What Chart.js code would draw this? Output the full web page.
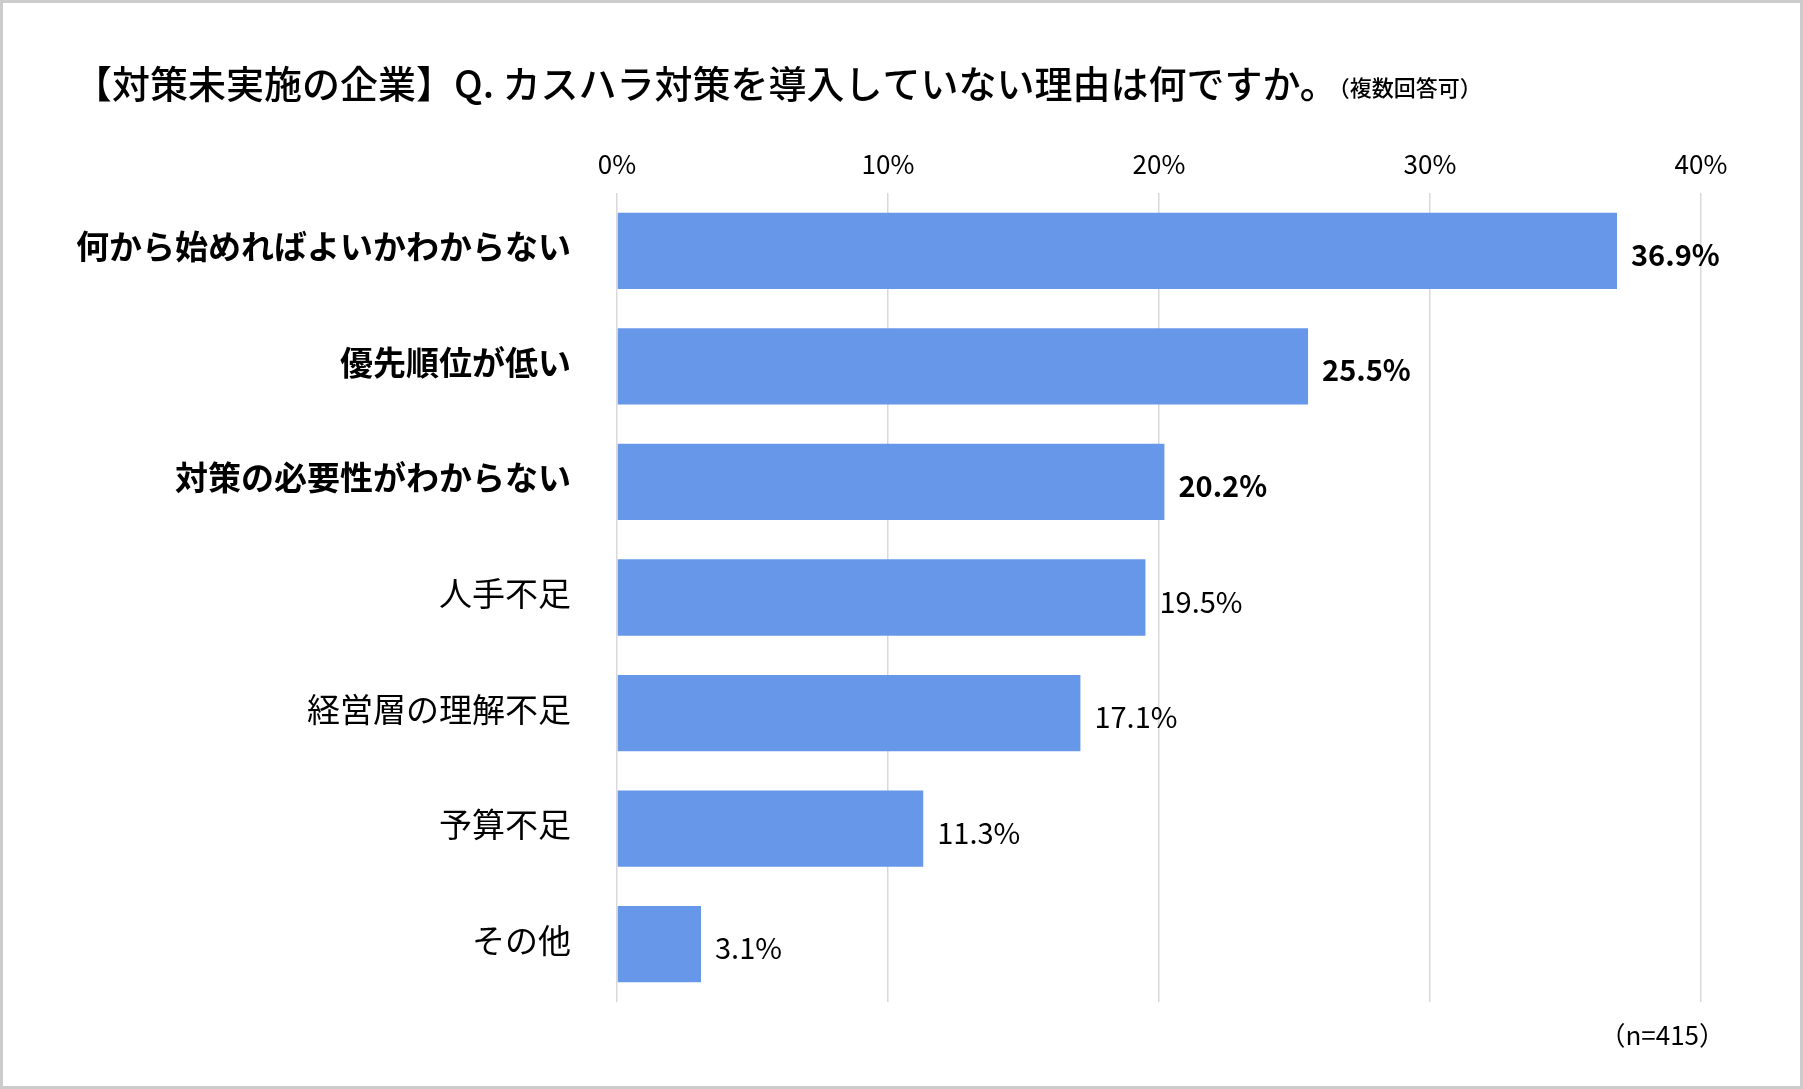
<!DOCTYPE html>
<html>
<head>
<meta charset="utf-8">
<script src="https://cdn.jsdelivr.net/npm/chart.js@4"></script>
<style>
  body { margin: 0; background: #fff; }
  #wrap { width: 1803px; height: 1089px; }
</style>
</head>
<body>
<div id="wrap"><canvas id="bar_plot" width="1803" height="1089"></canvas></div>
<script>
const FONT = '"Noto Sans CJK JP", "Noto Sans", sans-serif';

// データ
const categories = ['何から始めればよいかわからない', '優先順位が低い', '対策の必要性がわからない', '人手不足', '経営層の理解不足', '予算不足', 'その他'];
const values = [36.9, 25.5, 20.2, 19.5, 17.1, 11.3, 3.1];
const xTicks = [0, 10, 20, 30, 40];
const boldCount = 3; // 上位3項目は太字
const titleMain = '【対策未実施の企業】Q. カスハラ対策を導入していない理由は何ですか。';
const titleSub = '（複数回答可）';
const noteText = '（n=415）';

// タイトル・注記・枠線・値ラベル
const decorations = {
    id: 'decorations',
    afterDatasetsDraw(chart) {
        const ctx = chart.ctx;
        ctx.save();
        // 値ラベル
        const meta = chart.getDatasetMeta(0);
        meta.data.forEach((bar, i) => {
            ctx.font = (i < boldCount ? 'bold ' : '') + '29px ' + FONT;
            ctx.fillStyle = '#000';
            ctx.textAlign = 'left';
            ctx.textBaseline = 'middle';
            ctx.fillText(values[i].toFixed(1) + '%', bar.x + 14, bar.y + 4);
        });
        ctx.restore();
    },
    afterDraw(chart) {
        const ctx = chart.ctx;
        ctx.save();
        ctx.fillStyle = '#000';
        ctx.textBaseline = 'middle';
        ctx.textAlign = 'left';
        ctx.font = '500 38px ' + FONT;
        ctx.fillText(titleMain, 74, 84);
        const w = ctx.measureText(titleMain).width;
        ctx.font = '500 22px ' + FONT;
        ctx.fillText(titleSub, 74 + w - 10, 88);

        ctx.font = '26px ' + FONT;
        ctx.textAlign = 'right';
        ctx.fillText(noteText, 1725, 1035);

        // 外枠
        ctx.strokeStyle = '#cccccc';
        ctx.lineWidth = 3;
        ctx.strokeRect(1.5, 1.5, chart.width - 3, chart.height - 3);
        ctx.restore();
    }
};

new Chart(document.getElementById('bar_plot').getContext('2d'), {
    type: 'bar',
    data: {
        labels: categories,
        datasets: [{
            data: values,
            backgroundColor: 'rgb(103, 151, 232)',
            borderWidth: 0,
            categoryPercentage: 1,
            barPercentage: 0.66
        }]
    },
    options: {
        indexAxis: 'y',
        responsive: false,
        animation: false,
        devicePixelRatio: 1,
        layout: { padding: { top: 0, left: 0, right: 102, bottom: 87 } },
        plugins: {
            legend: { display: false },
            tooltip: { enabled: false }
        },
        scales: {
            x: {
                position: 'top',
                min: xTicks[0],
                max: xTicks[xTicks.length - 1],
                afterBuildTicks: scale => { scale.ticks = xTicks.map(v => ({ value: v })); },
                afterFit: scale => { scale.height = 193; },
                grid: { color: '#d9d9d9', lineWidth: 1.5, drawTicks: false },
                border: { display: false },
                ticks: {
                    padding: 13,
                    color: '#000',
                    font: { family: FONT, size: 26 },
                    callback: v => v + '%'
                }
            },
            y: {
                afterFit: scale => { scale.width = 617; },
                grid: { display: false, drawTicks: false },
                border: { display: false },
                ticks: {
                    padding: 46,
                    labelOffset: -4,
                    color: '#000',
                    font: ctx => ({ family: FONT, size: 33, weight: ctx.index < boldCount ? 'bold' : 'normal' })
                }
            }
        }
    },
    plugins: [decorations]
});
</script>
</body>
</html>
